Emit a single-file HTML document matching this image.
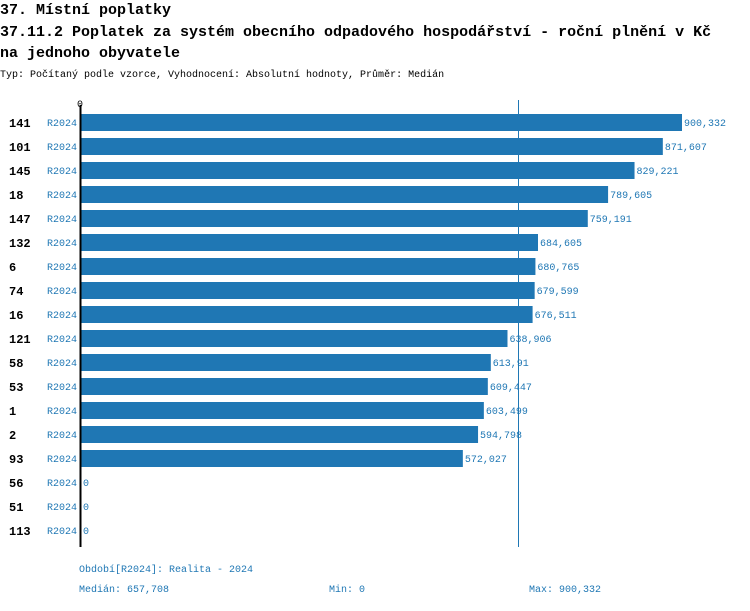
<!DOCTYPE html>
<html><head><meta charset="utf-8"><style>
body{margin:0;background:#fff;width:750px;height:606px;overflow:hidden}
svg text{font-family:"Liberation Mono",monospace}
</style></head><body>
<svg width="750" height="606" xmlns="http://www.w3.org/2000/svg">
<text x="0" y="14" font-size="15" font-weight="bold">37. Místní poplatky</text>
<text x="0" y="36" font-size="15" font-weight="bold">37.11.2 Poplatek za systém obecního odpadového hospodářství  - roční plnění v Kč</text>
<text x="0" y="57" font-size="15" font-weight="bold">na jednoho obyvatele</text>
<text x="0" y="77" font-size="10">Typ: Počítaný podle vzorce, Vyhodnocení: Absolutní hodnoty, Průměr: Medián</text>
<text x="77" y="107" font-size="10">0</text>
<line x1="518.5" y1="100" x2="518.5" y2="547" stroke="#1f77b4" stroke-width="1"/>
<g id="rows"></g>
<line x1="80.5" y1="105" x2="80.5" y2="547" stroke="#000" stroke-width="2"/>
<text x="79" y="572" font-size="10" fill="#1f77b4">Období[R2024]: Realita - 2024</text>
<text x="79" y="592" font-size="10" fill="#1f77b4">Medián: 657,708</text>
<text x="329" y="592" font-size="10" fill="#1f77b4">Min: 0</text>
<text x="529" y="592" font-size="10" fill="#1f77b4">Max: 900,332</text>
</svg>
<script>
var d=[["141",900332,"900,332"],["101",871607,"871,607"],["145",829221,"829,221"],["18",789605,"789,605"],["147",759191,"759,191"],["132",684605,"684,605"],["6",680765,"680,765"],["74",679599,"679,599"],["16",676511,"676,511"],["121",638906,"638,906"],["58",613910,"613,91"],["53",609447,"609,447"],["1",603499,"603,499"],["2",594798,"594,798"],["93",572027,"572,027"],["56",0,"0"],["51",0,"0"],["113",0,"0"]];
var g=document.getElementById("rows"),s="";
d.forEach(function(r,i){var y=114+i*24,w=r[1]*601/900332;
s+='<text x="9" y="'+(y+13)+'" font-size="12" font-weight="bold">'+r[0]+'</text>';
s+='<text x="47" y="'+(y+12)+'" font-size="10" fill="#1f77b4">R2024</text>';
if(w>0)s+='<rect x="81" y="'+y+'" width="'+w+'" height="17" fill="#1f77b4"/>';
s+='<text x="'+(83+w)+'" y="'+(y+12)+'" font-size="10" fill="#1f77b4">'+r[2]+'</text>';});
g.innerHTML=s;
</script>
</body></html>
